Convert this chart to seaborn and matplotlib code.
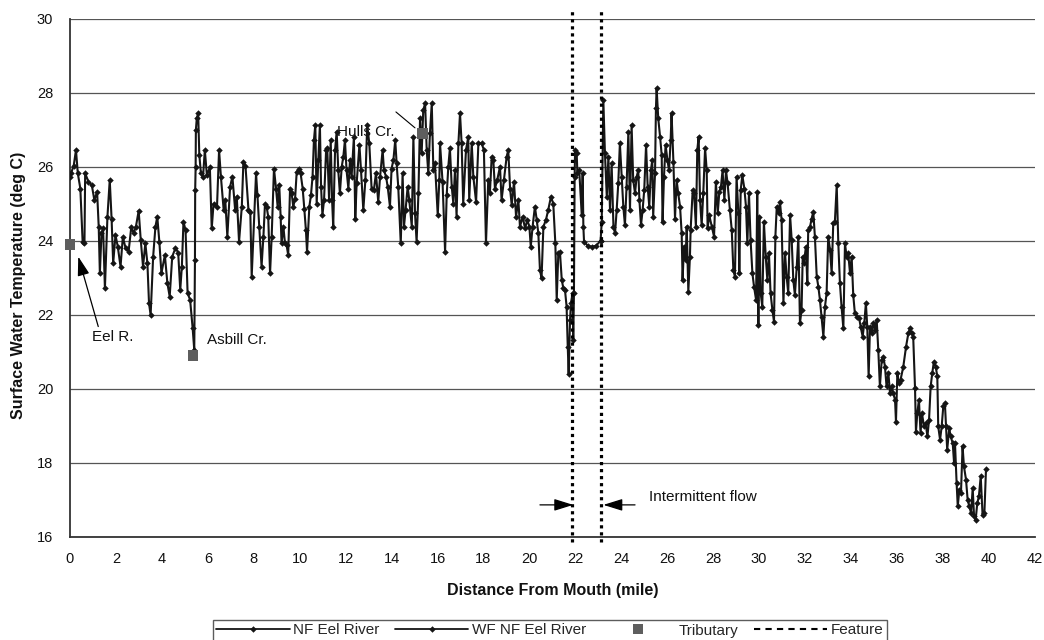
import matplotlib
matplotlib.use("Agg")
import matplotlib.pyplot as plt
import seaborn as sns
import pandas as pd
from matplotlib.lines import Line2D
from matplotlib.ticker import MultipleLocator

# ---------------- data ----------------
nf_mile = [
    0.00, 0.04, 0.16, 0.26, 0.34, 0.45, 0.55, 0.63, 0.66, 0.80, 0.95, 1.06, 1.18, 1.25, 1.30,
    1.37, 1.44, 1.52, 1.63, 1.73, 1.81, 1.88, 1.98, 2.08, 2.20, 2.30, 2.42, 2.55, 2.67, 2.77,
    2.87, 2.99, 3.08, 3.18, 3.28, 3.37, 3.44, 3.51, 3.62, 3.72, 3.80, 3.89, 3.98, 4.13, 4.24,
    4.34, 4.45, 4.59, 4.71, 4.80, 4.87, 4.94, 5.03, 5.12, 5.23, 5.34, 5.41, 5.44, 5.45, 5.47,
    5.48, 5.52, 5.58, 5.63, 5.70, 5.79, 5.87, 5.96, 6.09, 6.17, 6.25, 6.40, 6.49, 6.57, 6.69,
    6.76, 6.85, 6.97, 7.07, 7.19, 7.26, 7.36, 7.48, 7.55, 7.64, 7.77, 7.85,
    7.91, 8.10, 8.16, 8.24, 8.34, 8.42, 8.49, 8.56, 8.63, 8.71, 8.78, 8.88, 8.97, 9.04, 9.11,
    9.17, 9.21, 9.29, 9.36, 9.43, 9.50, 9.58, 9.65, 9.72, 9.80, 9.87, 9.97, 10.04, 10.13, 10.20,
    10.27, 10.32, 10.42, 10.49, 10.56, 10.62, 10.68, 10.74, 10.81, 10.88, 10.93, 10.99, 11.06,
    11.15, 11.20, 11.28, 11.35, 11.41, 11.46, 11.54, 11.61, 11.68, 11.75, 11.83, 11.90, 11.97,
    12.04, 12.12, 12.19, 12.26, 12.36, 12.42, 12.48, 12.60, 12.67, 12.77, 12.86, 12.94, 13.03,
    13.13, 13.23, 13.32, 13.42, 13.50, 13.61, 13.67, 13.76, 13.83, 13.93, 14.00, 14.08, 14.16,
    14.22, 14.29, 14.40, 14.48, 14.54, 14.61, 14.70, 14.77, 14.88, 14.95, 15.02, 15.09, 15.17,
    15.24, 15.31, 15.38, 15.46, 15.53, 15.60, 15.67, 15.75, 15.82, 15.89, 16.01, 16.08,
    16.11, 16.22, 16.33, 16.40, 16.47, 16.54, 16.62, 16.69, 16.76, 16.83, 16.91, 16.98, 17.05,
    17.12, 17.24, 17.34, 17.38, 17.49, 17.56, 17.68, 17.78, 17.92, 18.02, 18.11, 18.21, 18.28,
    18.36, 18.43, 18.50, 18.60, 18.72, 18.79, 18.89, 19.01, 19.08, 19.16, 19.23, 19.33, 19.42,
    19.52, 19.59, 19.71, 19.81, 19.91, 20.00, 20.06, 20.14, 20.24, 20.32, 20.39, 20.46, 20.53,
    20.61, 20.72, 20.82, 20.94, 21.04, 21.13, 21.19, 21.26, 21.33, 21.41, 21.48, 21.55, 21.62,
    21.67, 21.71, 21.77, 21.81, 21.88, 21.91, 21.94, 21.97, 21.99, 22.06, 22.09, 22.17, 22.28,
    22.32, 22.35, 22.38, 22.55, 22.71, 22.90, 23.10,
]
nf_temp = [
    25.73, 25.82, 26.02, 26.45, 25.82, 25.41, 23.97, 23.93, 25.82, 25.60, 25.50, 25.10, 25.32, 24.38, 23.12,
    24.20, 24.33, 22.71, 24.65, 25.64, 24.60, 23.39, 24.15, 23.84, 23.30, 24.10, 23.80, 23.70, 24.38, 24.20,
    24.38, 24.81, 24.02, 23.30, 23.93, 23.39, 22.31, 21.99, 23.57, 24.38, 24.65, 23.97, 23.12, 23.61, 22.85,
    22.49, 23.57, 23.80, 23.68, 22.67, 23.30, 24.51, 24.29, 22.58, 22.40, 21.63, 21.05, 23.48, 25.37, 26.00,
    26.99, 27.31, 27.44, 26.32, 25.82, 25.71, 26.45, 25.77, 25.98, 24.33, 25.00, 24.92, 26.45, 25.73, 24.83,
    25.10, 24.11, 25.46, 25.73, 24.83, 25.19, 23.97, 24.92, 26.14, 26.02, 24.83, 24.78,
    23.03, 25.82, 25.23, 24.38, 23.30, 24.11, 25.00, 24.92, 24.65, 23.12, 24.11, 25.95, 25.41, 24.92, 25.50,
    24.65, 23.93, 24.38, 23.93, 23.88, 23.61, 25.41, 25.28, 24.92, 25.14, 25.86, 25.95, 25.82, 25.41, 24.87,
    24.29, 23.70, 24.92, 25.23, 25.73, 26.72, 27.13, 25.00, 26.18, 27.13, 25.46, 24.69, 25.10,
    26.45, 26.50, 25.10, 26.72, 25.10, 24.38, 26.45, 26.95, 25.90, 25.28, 26.00, 26.27, 26.72,
    25.90, 25.41, 26.18, 25.73, 26.81, 24.60, 25.55, 26.59, 25.90, 24.83, 25.64, 27.13, 26.63,
    25.41, 25.37, 25.82, 25.05, 25.73, 26.45, 25.90, 25.73, 25.46, 24.92, 25.95, 26.18, 26.72,
    26.09, 25.46, 23.93, 25.82, 24.38, 24.83, 25.46, 25.10, 24.38, 26.81, 24.74, 23.97, 25.28,
    27.31, 26.36, 27.53, 27.71, 26.45, 25.82, 26.90, 27.71, 25.90, 26.09, 24.69, 25.64,
    26.63, 25.59, 23.70, 25.23, 26.00, 26.50, 25.46, 25.00, 25.90, 24.65, 26.63, 27.44, 26.63,
    25.00, 26.45, 26.81, 25.10, 26.63, 25.73, 25.05, 26.63, 26.63, 26.45, 23.93, 25.64, 25.28,
    26.27, 26.18, 25.41, 25.64, 26.00, 25.10, 25.64, 26.27, 26.45, 25.41, 24.96, 25.59, 24.65,
    25.10, 24.38, 24.65, 24.33, 24.56, 24.38, 23.84, 24.38, 24.92, 24.56, 24.20, 23.21, 22.98,
    24.38, 24.56, 24.83, 25.19, 25.00, 23.93, 22.40, 23.66, 23.70, 22.94, 22.71, 22.67, 22.22,
    21.14, 20.41, 21.86, 22.31, 22.58, 21.32, 22.58, 25.73, 26.45, 26.36, 25.82, 25.90, 24.69,
    25.82, 24.38, 23.97, 23.86, 23.84, 23.86, 24.00,
]
wf_mile = [
    23.10, 23.15, 23.22, 23.29, 23.37, 23.44, 23.51, 23.58, 23.66, 23.73, 23.80, 23.87,
    23.94, 24.02, 24.09, 24.16, 24.23, 24.31, 24.38, 24.45, 24.52, 24.60, 24.67, 24.74, 24.79,
    24.86, 24.93, 25.00, 25.08, 25.15, 25.22, 25.29, 25.35, 25.39, 25.47, 25.51, 25.54, 25.61,
    25.69, 25.76, 25.80, 25.86, 25.93, 26.01, 26.08, 26.15, 26.19, 26.27, 26.34, 26.41, 26.48,
    26.56, 26.63, 26.67, 26.73, 26.80, 26.85, 26.92, 26.99, 27.02, 27.11, 27.17, 27.25, 27.31,
    27.37, 27.43, 27.50, 27.57, 27.65, 27.72, 27.76, 27.83, 27.94, 28.04, 28.12, 28.20, 28.27,
    28.34, 28.41, 28.49, 28.56, 28.63, 28.73, 28.81, 28.88, 28.95, 29.02, 29.10, 29.14, 29.20,
    29.27, 29.36, 29.43, 29.49, 29.56, 29.63, 29.71, 29.78, 29.87, 29.92, 29.97, 30.01, 30.07,
    30.14, 30.21, 30.29, 30.36, 30.43, 30.50, 30.58, 30.65, 30.71, 30.77, 30.85, 30.91, 30.98,
    31.06, 31.13, 31.20, 31.27, 31.35, 31.42, 31.49, 31.56, 31.64, 31.71,
    31.78, 31.85, 31.90, 31.95, 32.04, 32.10, 32.14, 32.22, 32.29, 32.36, 32.43, 32.51, 32.58,
    32.65, 32.72, 32.80, 32.87, 32.94, 33.01, 33.09, 33.16, 33.23, 33.30, 33.38, 33.45, 33.52,
    33.59, 33.67, 33.74, 33.81, 33.88, 33.96, 34.03, 34.10, 34.17, 34.28, 34.36, 34.42, 34.51,
    34.58, 34.65, 34.71, 34.77, 34.83, 34.90, 34.97, 35.05, 35.12, 35.19, 35.26, 35.34, 35.41,
    35.48, 35.55, 35.63, 35.70, 35.77, 35.84, 35.92, 35.96, 36.02, 36.09, 36.16, 36.28, 36.40,
    36.50, 36.57, 36.64, 36.71, 36.79, 36.83, 36.89, 36.96, 37.03, 37.09, 37.18, 37.25, 37.33,
    37.40, 37.47, 37.54, 37.61, 37.69, 37.76, 37.80, 37.88, 37.95, 38.02, 38.09, 38.14, 38.19,
    38.28, 38.34, 38.43, 38.49, 38.53, 38.60, 38.65, 38.72, 38.79, 38.86, 38.92, 39.01, 39.08,
    39.15, 39.23, 39.30, 39.36, 39.43, 39.50, 39.57, 39.65, 39.73, 39.81, 39.88,
]
wf_temp = [
    24.00, 24.51, 27.80, 26.36, 25.19, 26.27, 24.83, 26.09, 24.38, 24.20, 24.83, 25.55,
    26.63, 25.73, 24.92, 24.42, 25.46, 26.95, 24.83, 27.13, 25.64, 25.28, 25.73, 25.90, 25.10,
    24.42, 24.83, 25.37, 26.59, 25.46, 24.92, 25.90, 26.18, 24.65, 25.82, 27.58, 28.12, 27.31,
    26.81, 26.32, 24.51, 25.73, 26.59, 26.18, 25.90, 26.72, 27.44, 26.14, 24.60, 25.64, 25.28,
    24.92, 24.20, 22.94, 23.84, 23.48, 24.38, 22.62, 23.57, 24.29, 25.37, 25.28, 24.38, 26.45,
    26.81, 25.10, 24.42, 25.28, 26.50, 25.90, 24.33, 24.69, 24.38, 24.11, 25.59, 24.74, 25.32,
    25.46, 25.90, 25.10, 25.90, 25.55, 24.83, 24.29, 23.21, 23.03, 25.73, 24.74, 23.12, 25.37,
    25.77, 25.41, 24.92, 23.93, 25.28, 24.02, 23.12, 22.76, 22.40, 25.32, 21.72, 24.65, 22.58,
    22.22, 24.51, 23.57, 22.94, 23.66, 22.58, 22.13, 21.81, 24.11, 24.92, 24.74, 25.05, 24.56,
    22.31, 23.66, 23.03, 22.58, 24.69, 24.02, 22.94, 22.53, 23.30, 24.11,
    21.77, 22.13, 23.57, 23.39, 23.84, 22.85, 24.29, 24.38, 24.60, 24.78, 24.11, 23.03, 22.76,
    22.40, 21.95, 21.41, 22.22, 22.58, 24.11, 23.75, 23.12, 24.47, 24.51, 25.50, 23.93, 22.85,
    22.22, 21.63, 23.93, 23.57, 23.66, 23.12, 23.57, 22.53, 22.04, 21.95, 21.90, 21.68, 21.41,
    21.77, 22.31, 21.68, 20.33, 21.68, 21.50, 21.77, 21.59, 21.86, 21.05, 20.06, 20.78, 20.87,
    20.60, 20.06, 20.42, 19.88, 20.06, 19.88, 19.70, 19.11, 20.42, 20.15, 20.24, 20.60, 21.14,
    21.50, 21.63, 21.50, 21.41, 20.01, 18.84, 19.34, 19.70, 18.80, 19.34, 18.98, 19.07, 18.71,
    19.16, 20.06, 20.42, 20.73, 20.60, 20.33, 18.98, 18.62, 18.98, 19.52, 19.61, 18.98, 18.35,
    18.93, 18.71, 18.53, 17.99, 18.53, 17.45, 16.82, 17.27, 17.18, 18.44, 17.90, 17.54, 17.00,
    16.82, 16.64, 17.31, 16.55, 16.46, 16.91, 17.09, 17.63, 16.59, 16.64, 17.83,
]
trib_names = ["Eel R.", "Asbill Cr.", "Hulls Cr."]
trib_mile = [0.0, 5.37, 15.35]
trib_temp = [23.9, 20.9, 26.9]
feature_mile = [21.87, 23.13]
series_names = ["NF Eel River", "WF NF Eel River", "Tributary", "Feature"]
x_ticks = list(range(0, 43, 2))
y_ticks = list(range(16, 31, 2))

# ---------------- figure ----------------
sns.set_theme(style="white")
plt.rcParams["font.family"] = ["Liberation Sans", "DejaVu Sans"]

W, H = 1044, 640
fig = plt.figure(figsize=(W / 100, H / 100), dpi=100)
ax = fig.add_axes([70 / W, 1 - 536.7 / H, (1034.7 - 70) / W, (536.7 - 18.7) / H])

line_color = "#151515"
line_kw = dict(color=line_color, linewidth=1.5, marker="D", markersize=3.3,
               markeredgewidth=0, estimator=None, sort=False, legend=False)
nf_df = pd.DataFrame({"mile": nf_mile, "temp": nf_temp})
wf_df = pd.DataFrame({"mile": wf_mile, "temp": wf_temp})
sns.lineplot(data=nf_df, x="mile", y="temp", ax=ax, zorder=3, **line_kw)
sns.lineplot(data=wf_df, x="mile", y="temp", ax=ax, zorder=3, **line_kw)

trib_df = pd.DataFrame({"mile": trib_mile, "temp": trib_temp, "name": trib_names})
sns.scatterplot(data=trib_df, x="mile", y="temp", ax=ax, marker="s", s=55,
                color="#5e5e5e", edgecolor="none", zorder=4, legend=False,
                clip_on=False)

# feature (intermittent flow) lines
ax.vlines(feature_mile, 15.85, 30.25, colors="black", linewidth=2.3,
          linestyles=[(0, (1, 1.2))], zorder=5, clip_on=False)

# axes styling
ax.set_xlim(0, 42)
ax.set_ylim(16, 30)
ax.set_xticks(x_ticks)
ax.set_yticks(y_ticks)
ax.xaxis.set_minor_locator(MultipleLocator(1))
ax.yaxis.set_minor_locator(MultipleLocator(1))
ax.yaxis.grid(True, which="major", color="#555555", linewidth=0.9)
ax.set_axisbelow(True)
for s in ["top", "right"]:
    ax.spines[s].set_visible(False)
for s in ["left", "bottom"]:
    ax.spines[s].set_color("#333333")
    ax.spines[s].set_linewidth(1.3)
ax.tick_params(axis="x", which="major", direction="inout", length=6, width=1,
               color="#333333", pad=8, labelsize=10.5, labelcolor="#111111")
ax.tick_params(axis="x", which="minor", direction="in", length=3.5, width=1,
               color="#333333")
ax.tick_params(axis="y", which="major", direction="out", length=4, width=1,
               color="#333333", pad=8, labelsize=10.5, labelcolor="#111111")
ax.tick_params(axis="y", which="minor", direction="in", length=3.5, width=1,
               color="#333333")
ax.set_xlabel("Distance From Mouth (mile)", fontsize=11.5, fontweight="bold",
              labelpad=12, color="#111111")
ax.set_ylabel("Surface Water Temperature (deg C)", fontsize=11.5,
              fontweight="bold", color="#111111")
ax.yaxis.set_label_coords(-44 / (1034.7 - 70), 0.485)

# annotations
arrow_kw = dict(arrowstyle="-|>,head_length=0.9,head_width=0.28", color="black",
                lw=0.9, mutation_scale=13, shrinkA=0, shrinkB=0)
ax.annotate("", xy=(0.36, 23.57), xytext=(1.23, 21.68), arrowprops=arrow_kw)
ax.text(0.96, 21.4, trib_names[0], va="center", ha="left", fontsize=11,
        color="#111111")
ax.text(5.96, 21.32, trib_names[1], va="center", ha="left", fontsize=11,
        color="#111111")
ax.text(11.62, 26.95, trib_names[2], va="center", ha="left", fontsize=11,
        color="#111111", zorder=2)
ax.plot([14.19, 15.02], [27.48, 27.05], color="black", lw=0.8, zorder=2)

ax.annotate("", xy=(21.91, 16.86), xytext=(20.46, 16.86), arrowprops=arrow_kw)
ax.annotate("", xy=(23.22, 16.86), xytext=(24.60, 16.86), arrowprops=arrow_kw)
ax.text(25.2, 17.08, "Intermittent flow", va="center", ha="left", fontsize=11,
        color="#111111")

# legend
handles = [
    Line2D([], [], color=line_color, lw=1.3, marker="D", markersize=3.3,
           markeredgewidth=0),
    Line2D([], [], color=line_color, lw=1.3, marker="D", markersize=3.3,
           markeredgewidth=0),
    Line2D([], [], color="none", marker="s", markersize=7.5,
           markerfacecolor="#5e5e5e", markeredgewidth=0),
    Line2D([], [], color="black", lw=1.5, linestyle=(0, (3, 2.5))),
]
leg = fig.legend(handles, series_names, loc="center",
                 bbox_to_anchor=(550 / W, 1 - 630.5 / H), ncol=4, frameon=True,
                 fancybox=False, edgecolor="#333333", fontsize=11,
                 handlelength=4.8, handletextpad=0.25, columnspacing=1.0,
                 borderpad=0.2, borderaxespad=0)
leg.get_frame().set_linewidth(1.0)

fig.savefig("out.png", dpi=100, facecolor="white")
